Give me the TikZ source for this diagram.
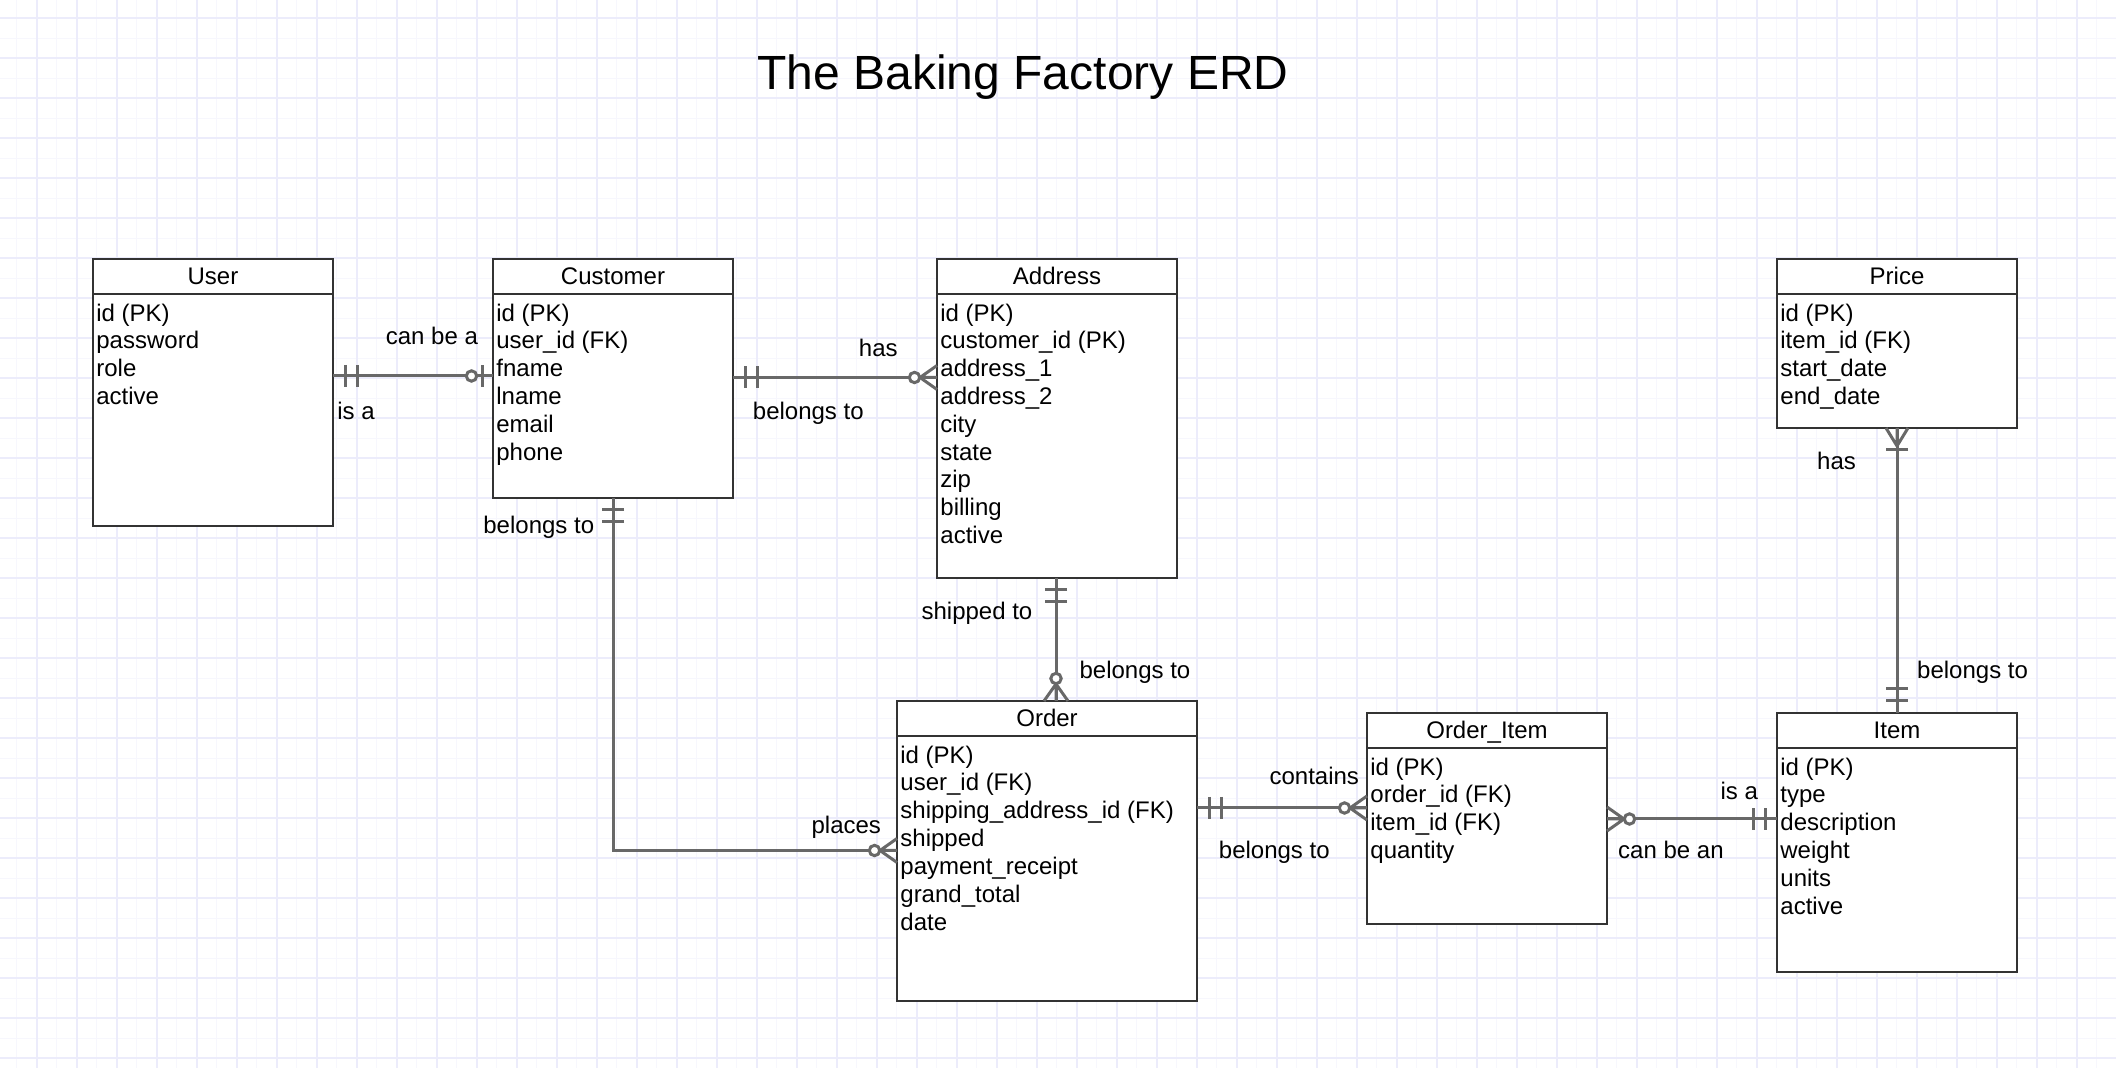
\documentclass[tikz,border=0pt]{standalone}
\usepackage{fontspec}
\setmainfont{Liberation Sans}

\definecolor{gridmajor}{RGB}{236,236,251}
\definecolor{gridminor}{RGB}{247,247,253}
\definecolor{boxline}{RGB}{51,51,51}
\definecolor{relline}{RGB}{104,104,104}

\tikzset{
  entbox/.style={draw=boxline, line width=1.3pt, fill=white, inner sep=0pt, outer sep=0pt, anchor=north west},
  hdrline/.style={draw=boxline, line width=1.3pt},
  conn/.style={draw=relline, line width=1.5pt},
  txt/.style={inner sep=0pt, font=\fontsize{12pt}{14pt}\selectfont},
  field/.style={txt, anchor=base west},
  hdr/.style={txt, anchor=base},
  rel/.style={txt, anchor=base west},
  % cardinality ends: origin on the entity border, +x pointing away from it
  pics/mone/.style={code={\draw[conn] (12,-11) -- (12,11) (24,-11) -- (24,11);}},
  pics/zone/.style={code={\draw[conn] (11,-11) -- (11,11);
                          \draw[conn, fill=white] (21.5,0) circle[radius=2.6pt];}},
  pics/zmany/.style={code={\draw[conn] (17,0) -- (0,-12) (17,0) -- (0,12) (17,0) -- (0,0);
                           \draw[conn, fill=white] (22.5,0) circle[radius=2.6pt];}},
  pics/omany/.style={code={\draw[conn] (18,0) -- (0,-11) (18,0) -- (0,11) (18,0) -- (0,0);
                           \draw[conn] (22,-11) -- (22,11);}},
}

% entity box: name, left, top, width, height, title, fields
\newcommand\erentity[7]{%
  \node[entbox, minimum width=#4*0.5pt, minimum height=#5*0.5pt] (#1) at (#2,#3) {};
  \draw[hdrline] ([yshift=-17.5pt]#1.north west) -- ([yshift=-17.5pt]#1.north east);
  \node[hdr] (#1-name) at ([yshift=-13pt]#1.north) {#6};
  \foreach \f [count=\i] in {#7} {
    \node[field] (#1-f\i) at ([xshift=1.5pt, yshift={-17.5pt-13.6pt-(\i-1)*13.9pt}]#1.north west) {\f};
  }%
}

\begin{document}
\begin{tikzpicture}[x=0.5pt, y=-0.5pt]
  \useasboundingbox (0,0) rectangle (2116,1068);
  \fill[white] (0,0) rectangle (2116,1068);

  % paper grid
  \foreach \i in {0,...,105}
    \draw[gridminor, line width=0.6pt] ({16.7+20*\i},0) -- ({16.7+20*\i},1068);
  \foreach \i in {0,...,53}
    \draw[gridminor, line width=0.6pt] (0,{18.3+20*\i}) -- (2116,{18.3+20*\i});
  \foreach \i in {0,...,52}
    \draw[gridmajor, line width=1pt] ({36.7+40*\i},0) -- ({36.7+40*\i},1068);
  \foreach \i in {0,...,26}
    \draw[gridmajor, line width=1pt] (0,{18.3+40*\i}) -- (2116,{18.3+40*\i});

  % title
  \node[anchor=base, inner sep=0pt, font=\fontsize{24pt}{28pt}\selectfont] (title) at (1023,90) {The Baking Factory ERD};

  % entities
  \erentity{user}{93}{259}{240}{267}{User}{id (PK),password,role,active}
  \erentity{customer}{493}{259}{240}{239}{Customer}{id (PK),user\_id (FK),fname,lname,email,phone}
  \erentity{address}{937}{259}{240}{319}{Address}{id (PK),customer\_id (PK),address\_1,address\_2,city,state,zip,billing,active}
  \erentity{price}{1777}{259}{240}{169}{Price}{id (PK),item\_id (FK),start\_date,end\_date}
  \erentity{order}{897}{701}{300}{300}{Order}{id (PK),user\_id (FK),shipping\_address\_id (FK),shipped,payment\_receipt,grand\_total,date}
  \erentity{orderitem}{1367}{713}{240}{211}{Order\_Item}{id (PK),order\_id (FK),item\_id (FK),quantity}
  \erentity{item}{1777}{713}{240}{259}{Item}{id (PK),type,description,weight,units,active}

  % relationships
  % User -- Customer
  \draw[conn] (user.east |- 0,376) -- (customer.west |- 0,376);
  \pic at (user.east |- 0,376) {mone};
  \pic[rotate=180] at (customer.west |- 0,376) {zone};
  \node[rel] (l-uc1) at (385.5,345) {can be a};
  \node[rel] (l-uc2) at (337,420) {is a};

  % Customer -- Address
  \draw[conn] (customer.east |- 0,377.5) -- (address.west |- 0,377.5);
  \pic at (customer.east |- 0,377.5) {mone};
  \pic[rotate=180] at (address.west |- 0,377.5) {zmany};
  \node[rel] (l-ca1) at (858.5,356.7) {has};
  \node[rel] (l-ca2) at (752.5,420) {belongs to};

  % Address -- Order
  \draw[conn] (1056,0 |- address.south) -- (1056,0 |- order.north);
  \pic[rotate=-90] at (1056,0 |- address.south) {mone};
  \pic[rotate=90] at (1056,0 |- order.north) {zmany};
  \node[rel] (l-ao1) at (921.2,619.3) {shipped to};
  \node[rel] (l-ao2) at (1079.2,678.3) {belongs to};

  % Customer -- Order
  \draw[conn] (customer.south) |- (order.west |- 0,850.5);
  \pic[rotate=-90] at (customer.south) {mone};
  \pic[rotate=180] at (order.west |- 0,850.5) {zmany};
  \node[rel] (l-co1) at (483,533.3) {belongs to};
  \node[rel] (l-co2) at (811.2,833.3) {places};

  % Order -- Order_Item
  \draw[conn] (order.east |- 0,808) -- (orderitem.west |- 0,808);
  \pic at (order.east |- 0,808) {mone};
  \pic[rotate=180] at (orderitem.west |- 0,808) {zmany};
  \node[rel] (l-oo1) at (1269.2,785) {contains};
  \node[rel] (l-oo2) at (1218.5,858.3) {belongs to};

  % Order_Item -- Item
  \draw[conn] (orderitem.east |- 0,819) -- (item.west |- 0,819);
  \pic at (orderitem.east |- 0,819) {zmany};
  \pic[rotate=180] at (item.west |- 0,819) {mone};
  \node[rel] (l-oi1) at (1720.2,800) {is a};
  \node[rel] (l-oi2) at (1617.8,858.3) {can be an};

  % Price -- Item
  \draw[conn] (price.south) -- (item.north);
  \pic[rotate=-90] at (price.south) {omany};
  \pic[rotate=90] at (item.north) {mone};
  \node[rel] (l-pi1) at (1816.8,469.3) {has};
  \node[rel] (l-pi2) at (1916.8,678.3) {belongs to};
\end{tikzpicture}
\end{document}
